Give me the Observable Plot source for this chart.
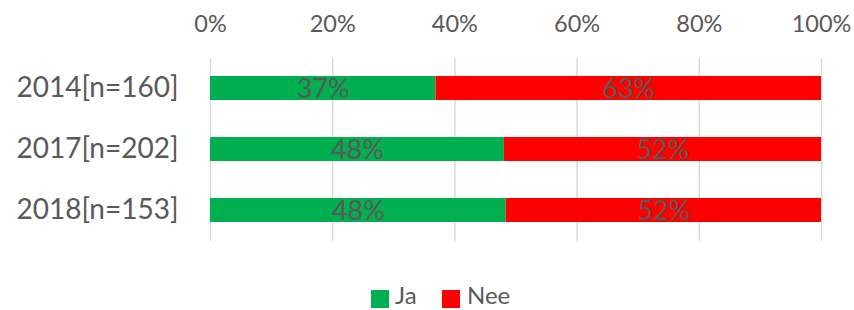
<!DOCTYPE html>
<html>
<head>
<meta charset="utf-8">
<script src="https://cdn.jsdelivr.net/npm/d3@7"></script>
<script src="https://cdn.jsdelivr.net/npm/@observablehq/plot@0.6"></script>
<style>
  html, body { margin: 0; padding: 0; background: #fff; }
  #wrap { position: relative; width: 854px; height: 310px; overflow: hidden; }
  #legend { position: absolute; left: 0; top: 280px; width: 854px; height: 30px;
    font-family: Lato, "Open Sans", sans-serif;
    font-size: 24px; color: #595959; }
  .sw { position: absolute; width: 18px; height: 18px; top: 10px; }
  .lab { position: absolute; top: 0px; white-space: nowrap; line-height: 30px; }
</style>
</head>
<body>
<div id="wrap"><div id="chart"></div><div id="legend"></div></div>
<script>
const categories = ["2014[n=160]", "2017[n=202]", "2018[n=153]"];
const answers = ["Ja", "Nee"];
const jaValues = [36.9, 48.1, 48.4];
const neeValues = [63.1, 51.9, 51.6];
const jaLabels = ["37%", "48%", "48%"];
const neeLabels = ["63%", "52%", "52%"];
const colors = ["#00B050", "#FF0000"];
const xTicks = [0, 20, 40, 60, 80, 100];

const data = [];
categories.forEach((c, i) => {
  data.push({cat: c, answer: "Ja", value: jaValues[i], label: jaLabels[i]});
  data.push({cat: c, answer: "Nee", value: neeValues[i], label: neeLabels[i]});
});

const font = 'Lato, "Open Sans", sans-serif';

const chart = Plot.plot({
  width: 854,
  height: 280,
  marginLeft: 210,
  marginRight: 33,
  marginTop: 58,
  marginBottom: 39,
  style: {fontFamily: font, background: "#fff", color: "#595959", overflow: "visible"},
  x: {domain: [0, 100], ticks: xTicks, tickFormat: d => d + "%"},
  y: {domain: categories, paddingInner: 0.6, paddingOuter: 0.3},
  color: {domain: answers, range: colors},
  marks: [
    Plot.gridX(xTicks, {stroke: "#d9d9d9", strokeOpacity: 1, strokeWidth: 1.5}),
    Plot.barX(data, Plot.stackX({x: "value", y: "cat", fill: "answer", z: "answer", order: answers})),
    Plot.text(data, Plot.stackX({x: "value", y: "cat", z: "answer", text: "label", order: answers,
      fill: "#595959", fontSize: 27, dy: 1})),
    Plot.axisX(xTicks, {anchor: "top", tickSize: 0, tickPadding: 27, fontSize: 23.5,
      tickFormat: d => d + "%", label: null, fill: "#595959"}),
    Plot.axisY(categories, {anchor: "left", tickSize: 0, tickPadding: 32, fontSize: 28,
      label: null, fill: "#595959"})
  ]
});
document.getElementById("chart").appendChild(chart);

const legend = document.getElementById("legend");
const legendPos = [{sw: 371, lab: 395}, {sw: 442, lab: 467}];
answers.forEach((a, i) => {
  const sw = document.createElement("div");
  sw.className = "sw";
  sw.style.left = legendPos[i].sw + "px";
  sw.style.background = colors[i];
  legend.appendChild(sw);
  const lab = document.createElement("div");
  lab.className = "lab";
  lab.style.left = legendPos[i].lab + "px";
  lab.textContent = a;
  legend.appendChild(lab);
});
</script>
</body>
</html>
